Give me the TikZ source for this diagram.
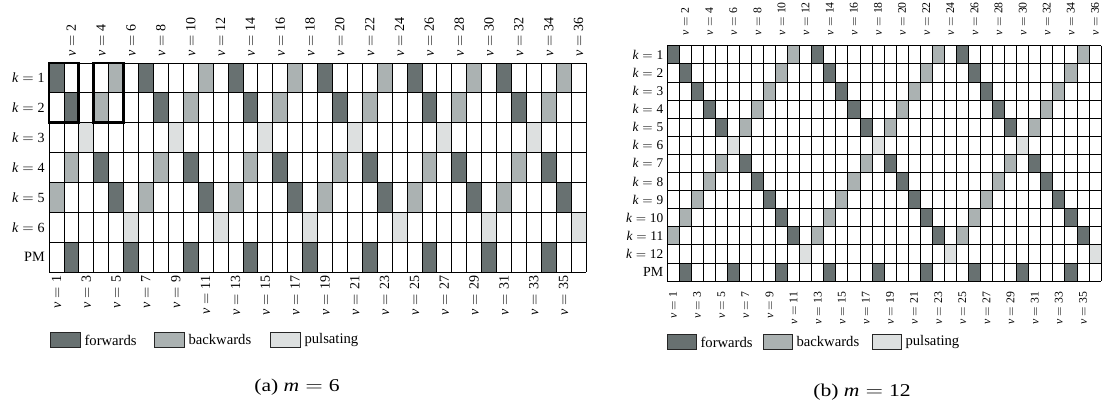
\documentclass[tikz,border=0pt]{standalone}
\usepackage{fontspec}
\setmainfont{Liberation Serif}
\definecolor{fwd}{RGB}{104,113,113}
\definecolor{bwd}{RGB}{171,178,178}
\definecolor{pls}{RGB}{221,224,224}
\newcommand\myeq{\hspace{0.278em}$=$\hspace{0.278em}}
\begin{document}
\begin{tikzpicture}[x=0.75pt,y=-0.75pt,
  gridline/.style={line width=0.6pt, draw=black},
  lbl/.style={inner sep=0pt},
  lbla/.style={lbl, font=\fontsize{10.5}{12}\selectfont},
  lblbcol/.style={lbl, font=\fontsize{8.8}{11}\selectfont},
  lblbrow/.style={lbl, font=\fontsize{10}{12}\selectfont},
  toplbl/.style={rotate=90, anchor=west},
  botlbl/.style={rotate=90, anchor=east},
  rowlbl/.style={anchor=east},
  pmlbl/.style={lbl, font=\fontsize{10.7}{12}\selectfont, anchor=east},
  legbox/.style={draw=black!85, line width=0.7pt, inner sep=0pt, anchor=north west},
  legtxt/.style={lbl, font=\fontsize{11}{13}\selectfont, anchor=west},
  captxt/.style={font=\fontsize{13.5}{16}\selectfont, inner sep=0pt, anchor=base},
  hilite/.style={draw=black, line width=2.2pt}
]
\useasboundingbox (0,0) rectangle (1104,401);

% ---------------- Panel (a): m = 6 ----------------
\begin{scope}[shift={(49,63)}, x=11.1875pt, y=-22.393pt]
  \foreach \k/\f/\b in {1/1/5,2/2/4,4/4/2,5/5/1}{
    \foreach \j in {0,...,5}{
      \fill[fwd] ({\f+6*\j-1},{\k-1}) rectangle ++(1,1);
      \fill[bwd] ({\b+6*\j-1},{\k-1}) rectangle ++(1,1);
    }
  }
  \foreach \k in {3,6}{
    \foreach \j in {0,...,5}{
      \fill[pls] ({\k+6*\j-1},{\k-1}) rectangle ++(1,1);
    }
  }
  \foreach \j in {0,...,8}{
    \fill[fwd] ({1+4*\j},6) rectangle ++(1,1);
  }
  \foreach \i in {0,...,36} \draw[gridline] (\i,0) -- (\i,7);
  \foreach \i in {0,...,7} \draw[gridline] (0,\i) -- (36,\i);
  \draw[hilite] (0,0) rectangle (2,2);
  \draw[hilite] (3,0) rectangle (5,2);
  \foreach \c in {2,4,...,36}
    \node[lbla, toplbl] (a-t\c) at ({\c-0.5},-0.2) {\textit{ν}\myeq\c};
  \foreach \c in {1,3,...,35}
    \node[lbla, botlbl] (a-b\c) at ({\c-0.5},7.12) {\textit{ν}\myeq\c};
  \foreach \k in {1,...,6}
    \node[lbla, rowlbl] (a-k\k) at (-0.27,{\k-0.5}) {\textit{k}\myeq\k};
  \node[pmlbl] (a-pm) at (-0.27,6.5) {PM};
\end{scope}

% ---------------- Panel (b): m = 12 ----------------
\begin{scope}[shift={(667,45.7)}, x=9.042pt, y=-13.575pt]
  \foreach \k/\f/\b in {1/1/11,2/2/10,3/3/9,4/4/8,5/5/7,7/7/5,8/8/4,9/9/3,10/10/2,11/11/1}{
    \foreach \j in {0,...,2}{
      \fill[fwd] ({\f+12*\j-1},{\k-1}) rectangle ++(1,1);
      \fill[bwd] ({\b+12*\j-1},{\k-1}) rectangle ++(1,1);
    }
  }
  \foreach \k in {6,12}{
    \foreach \j in {0,...,2}{
      \fill[pls] ({\k+12*\j-1},{\k-1}) rectangle ++(1,1);
    }
  }
  \foreach \j in {0,...,8}{
    \fill[fwd] ({1+4*\j},12) rectangle ++(1,1);
  }
  \foreach \i in {0,...,36} \draw[gridline] (\i,0) -- (\i,13);
  \foreach \i in {0,...,13} \draw[gridline] (0,\i) -- (36,\i);
  \foreach \c in {2,4,...,36}
    \node[lblbcol, toplbl] (b-t\c) at ({\c-0.5},-0.56) {\textit{ν}\myeq\c};
  \foreach \c in {1,3,...,35}
    \node[lblbcol, botlbl] (b-b\c) at ({\c-0.5},13.58) {\textit{ν}\myeq\c};
  \foreach \k in {1,...,12}
    \node[lblbrow, rowlbl] (b-k\k) at (-0.29,{\k-0.5}) {\textit{k}\myeq\k};
  \node[pmlbl, font=\fontsize{10.4}{12}\selectfont] (b-pm) at (-0.29,12.5) {PM};
\end{scope}

% ---------------- Legends ----------------
\node[legbox, fill=fwd, minimum width=22.5pt, minimum height=11.25pt] (la-f) at (50,332) {};
\node[legtxt] (la-ft) at ([xshift=2.5pt]la-f.east) {forwards};
\node[legbox, fill=bwd, minimum width=22.5pt, minimum height=11.25pt] (la-b) at (154,332) {};
\node[legtxt] (la-bt) at ([xshift=2.5pt]la-b.east) {backwards};
\node[legbox, fill=pls, minimum width=22.5pt, minimum height=11.25pt] (la-p) at (270,332) {};
\node[legtxt] (la-pt) at ([xshift=2.5pt]la-p.east) {pulsating};

\node[legbox, fill=fwd, minimum width=21.75pt, minimum height=11.25pt] (lb-f) at (667,334) {};
\node[legtxt] (lb-ft) at ([xshift=2.5pt]lb-f.east) {forwards};
\node[legbox, fill=bwd, minimum width=21.75pt, minimum height=11.25pt] (lb-b) at (763,334) {};
\node[legtxt] (lb-bt) at ([xshift=2.5pt]lb-b.east) {backwards};
\node[legbox, fill=pls, minimum width=21.75pt, minimum height=11.25pt] (lb-p) at (872,334) {};
\node[legtxt] (lb-pt) at ([xshift=2.5pt]lb-p.east) {pulsating};

% ---------------- Captions ----------------
\node[captxt] (cap-a) at (297,391) {\scalebox{1.2}[1]{(a) \textit{m}\myeq6}};
\node[captxt] (cap-b) at (862,396) {\scalebox{1.2}[1]{(b) \textit{m}\myeq12}};
\end{tikzpicture}
\end{document}
